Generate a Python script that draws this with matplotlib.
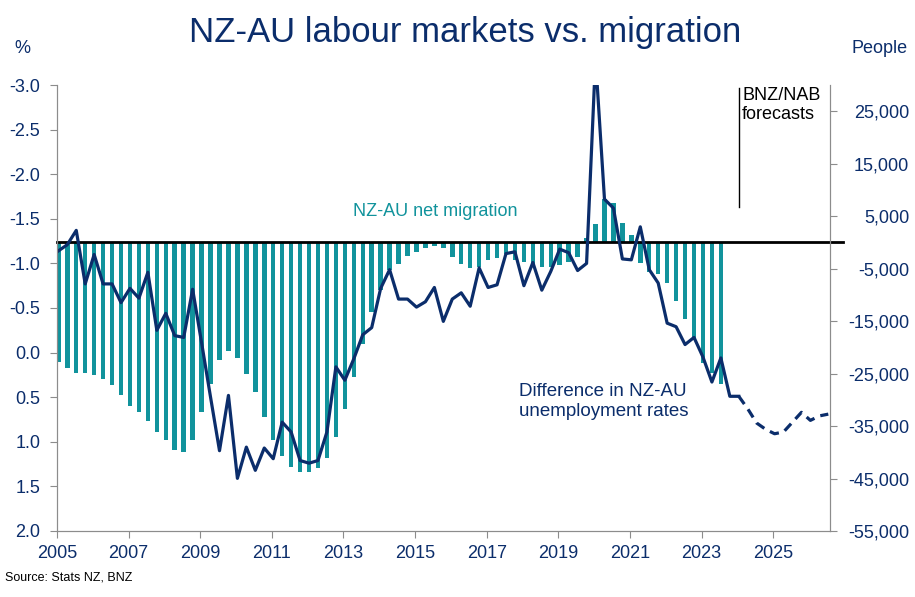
import numpy as np
import matplotlib
matplotlib.use("Agg")
import matplotlib.pyplot as plt

plt.rcParams['font.family'] = ['Liberation Sans', 'DejaVu Sans']

# quarterly data from 2005 Q1
# NZ-AU net migration (people, annual)
net_migration = [-22850, -23950, -24900, -24900, -25300, -26100, -27200, -29100,
                 -31200, -32400, -34100, -36100, -37600, -39500, -39900, -37600,
                 -32400, -26900, -22400, -20700, -22000, -25000, -28500, -33300,
                 -37700, -40800, -42800, -43800, -43800, -43000, -41000, -37100,
                 -31800, -25700, -19400, -13300, -9100, -5300, -4100, -2600,
                 -1800, -1000, -700, -1100, -2700, -4200, -4800, -4600,
                 -3300, -2900, -2300, -3300, -3800, -4600, -4600, -4600,
                 -4300, -3800, -2800, 800, 3500, 8200, 7500, 3700,
                 1400, -4000, -5600, -6100, -7800, -11150, -14600, -18500,
                 -23000, -24900, -27000]

# difference in NZ-AU unemployment rates (% pts), incl. forecasts
unemp_diff = [-1.14, -1.21, -1.37, -0.77, -1.10, -0.77, -0.77, -0.56, -0.72, -0.61,
              -0.90, -0.25, -0.44, -0.19, -0.17, -0.71, -0.11, 0.50, 1.10, 0.48,
              1.41, 1.06, 1.32, 1.07, 1.19, 0.78, 0.89, 1.21, 1.24, 1.21,
              0.89, 0.16, 0.31, 0.07, -0.20, -0.28, -0.72, -0.93, -0.60, -0.60,
              -0.51, -0.57, -0.73, -0.35, -0.60, -0.67, -0.52, -0.95, -0.73, -0.76,
              -1.11, -1.13, -0.75, -1.01, -0.70, -0.91, -1.16, -1.12, -0.92, -1.00,
              -3.30, -1.72, -1.62, -1.05, -1.04, -1.41, -0.93, -0.78, -0.33, -0.29,
              -0.09, -0.17, 0.05, 0.33, 0.06, 0.49, 0.49, 0.63, 0.79, 0.86,
              0.91, 0.89, 0.78, 0.67, 0.76, 0.71, 0.69]
forecast_start = 76  # 2024 Q1

year_ticks = list(range(2005, 2026, 2))
pct_ticks = [-3.0, -2.5, -2.0, -1.5, -1.0, -0.5, 0.0, 0.5, 1.0, 1.5, 2.0]
people_ticks = [25000, 15000, 5000, -5000, -15000, -25000, -35000, -45000, -55000]

navy = '#0b2d6b'
teal = '#11939c'
grey = '#8c8c8c'

x_bar = 2005 + (np.arange(len(net_migration)) + 0.15) / 4
x_line = 2005 + (np.arange(len(unemp_diff)) + 0.15) / 4

fig = plt.figure(figsize=(9.15, 5.97), dpi=100)
ax = fig.add_axes([0.0623, 0.1106, 0.845, 0.747])
ax2 = ax.twinx()

ax2.bar(x_bar, net_migration, width=0.125, color=teal)
ax2.axhline(0, xmin=0, xmax=1.017, color='black', lw=2, clip_on=False)
ax2.set_ylim(-55000, 30000)
ax2.set_yticks(people_ticks)
ax2.set_yticklabels([f'{t:,}' for t in people_ticks])

ax.plot(x_line[:forecast_start + 1], unemp_diff[:forecast_start + 1], color=navy, lw=2.3)
ax.plot(x_line[forecast_start:], unemp_diff[forecast_start:], color=navy, lw=2.3,
        ls=(0, (3, 2)))
ax.set_ylim(2.0, -3.0)
ax.set_yticks(pct_ticks)
ax.set_yticklabels([f'{t:.1f}' for t in pct_ticks])
ax.set_xlim(2005, 2026.59)
ax.set_xticks(year_ticks)

ax.set_zorder(ax2.get_zorder() + 1)
ax.patch.set_visible(False)

for a in (ax, ax2):
    for s in a.spines.values():
        s.set_color(grey)
    a.spines['top'].set_visible(False)
    a.tick_params(colors=grey, labelcolor=navy, labelsize=13, length=5, direction='out')
ax.tick_params(axis='y', pad=7)
ax.tick_params(axis='x', pad=5)
ax2.tick_params(axis='y', pad=52)
for lab in ax2.get_yticklabels():
    lab.set_horizontalalignment('right')

# forecast marker
ax.plot([2024.05, 2024.05], [-2.97, -1.63], color='black', lw=1)
ax.text(2024.13, -2.98, 'BNZ/NAB\nforecasts', fontsize=13, color='black',
        va='top', ha='left', linespacing=1.15)

ax.text(2015.55, -1.58, 'NZ-AU net migration', fontsize=13, color=teal,
        ha='center', va='center')
ax.text(2017.9, 0.55, 'Difference in NZ-AU\nunemployment rates', fontsize=13.5,
        color=navy, ha='left', va='center', linespacing=1.2)

fig.text(0.508, 0.946, 'NZ-AU labour markets vs. migration', fontsize=25,
         color=navy, ha='center', va='center')
fig.text(0.024, 0.919, '%', fontsize=13, color=navy, ha='center', va='center')
fig.text(0.961, 0.919, 'People', fontsize=13, color=navy, ha='center', va='center')
fig.text(0.005, 0.032, 'Source: Stats NZ, BNZ', fontsize=9, color='black',
         ha='left', va='center')

fig.savefig('out.png', dpi=100)
